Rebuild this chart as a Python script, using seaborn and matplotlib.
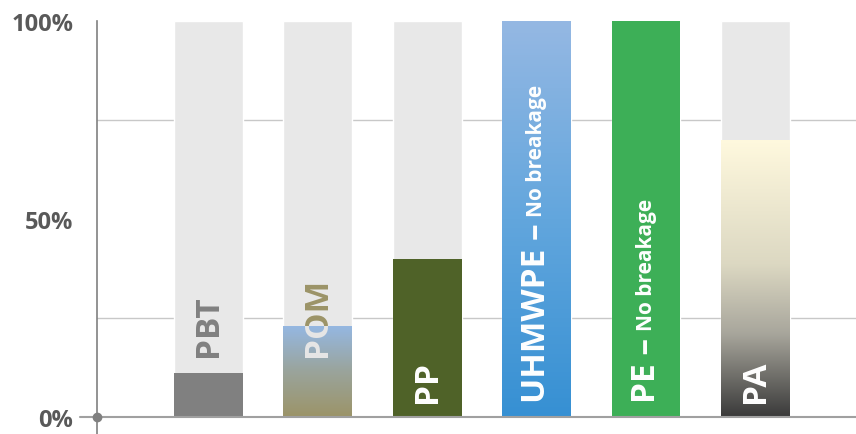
import numpy as np
import matplotlib
matplotlib.use('Agg')
import matplotlib.pyplot as plt
import seaborn as sns
from matplotlib.colors import LinearSegmentedColormap
from matplotlib.patches import Rectangle

# share of samples (0..1) per material
materials = ['PBT', 'POM', 'PP', 'UHMWPE', 'PE', 'PA']
share = [0.11, 0.23, 0.40, 1.00, 1.00, 0.70]
full = [1.0] * len(materials)
bar_colors = ['#808080', '#9aa6a0', '#4f6228', '#6aa6dd', '#3daf57', '#a0a09a']
main_labels = ['PBT', 'POM', 'PP', 'UHMWPE –', 'PE –', 'PA']
sub_labels = ['', '', '', 'No breakage', 'No breakage', '']
label_out = ['#808080', '#9c9468', '#ffffff', '#ffffff', '#ffffff', '#ffffff']
label_in = ['#ffffff', '#e6e6e6', '#ffffff', '#ffffff', '#ffffff', '#ffffff']
gradients = {
    'POM': ['#9c9468', '#9aa49c', '#95b8e3'],
    'UHMWPE': ['#3690d3', '#62a6dd', '#95b8e3'],
    'PA': [(0.0, '#3a3a3a'), (0.3, '#a8a69c'), (0.55, '#dcd8c2'), (1.0, '#fff9de')],
}

sns.set_style('white')
plt.rcParams['font.family'] = ['Open Sans', 'DejaVu Sans']

fig = plt.figure(figsize=(8.56, 4.35), dpi=100)
ax = fig.add_axes([97 / 856, 0, 1 - 97 / 856, 1 - 22 / 435])

sns.barplot(x=materials, y=full, color='#e8e8e8', width=0.63, errorbar=None,
            saturation=1, ax=ax, zorder=2)
sns.barplot(x=materials, y=share, hue=materials, palette=bar_colors, width=0.63,
            errorbar=None, saturation=1, legend=False, ax=ax, zorder=3)

bars = ax.patches[len(materials):2 * len(materials)]
for name, p in zip(materials, bars):
    p.set_edgecolor('none')
    if name in gradients:
        cm = LinearSegmentedColormap.from_list(name, gradients[name])
        x0, w, h = p.get_x(), p.get_width(), p.get_height()
        im = ax.imshow(np.linspace(0, 1, 256).reshape(-1, 1), cmap=cm,
                       extent=[x0, x0 + w, 0, h], origin='lower',
                       aspect='auto', zorder=3.5)
        im.set_clip_path(p)

# rotated labels; part over grey drawn in one colour, part inside bar in another
for i, p in enumerate(bars):
    xc = p.get_x() + p.get_width() / 2
    ybase = 0.155 if share[i] < 0.3 else 0.037
    for col, clip in [(label_out[i], (share[i], 1.0)), (label_in[i], (0.0, share[i]))]:
        if clip[1] <= clip[0]:
            continue
        r = Rectangle((p.get_x() - 0.2, clip[0]), p.get_width() + 0.4,
                      clip[1] - clip[0], transform=ax.transData, visible=False)
        ax.add_artist(r)
        t = ax.text(xc, ybase, main_labels[i], rotation=90, ha='center',
                    va='bottom', fontsize=24, fontweight='bold', color=col,
                    zorder=5, clip_on=True)
        t.set_clip_path(r)
        if sub_labels[i]:
            ax.annotate(sub_labels[i], xy=(0.5, 1), xycoords=t,
                        xytext=(0, 5), textcoords='offset points',
                        rotation=90, ha='center', va='bottom', fontsize=15,
                        fontweight='bold', color=col, zorder=5)

ax.set_xlim(-1.02, 5.92)
ax.set_ylim(-0.043, 1.0)
ax.set_yticks([0, 0.5, 1.0])
ax.set_yticklabels(['0%', '50%', '100%'])
ax.set_yticks([0.25, 0.5, 0.75], minor=True)
ax.grid(which='minor', axis='y', color='#c8c8c8', lw=1)
ax.set_axisbelow(True)
ax.tick_params(axis='y', which='both', length=0, pad=17, labelsize=17,
               labelcolor='#595959')
for lbl in ax.get_yticklabels():
    lbl.set_fontweight('bold')
ax.set_xticks([])
ax.set_xlabel('')
for s in ['top', 'right', 'bottom']:
    ax.spines[s].set_visible(False)
ax.spines['left'].set_color('#808080')
ax.spines['left'].set_linewidth(1.2)

# base line with short tick and dot at origin
tr = ax.get_yaxis_transform()
ax.plot([-0.022, 1], [0, 0], transform=tr, color='#a0a0a0', lw=1.5,
        clip_on=False, zorder=4)
ax.plot([0], [0], transform=tr, marker='o', ms=6, color='#808080',
        clip_on=False, zorder=6)

fig.savefig('out.png', dpi=100)
